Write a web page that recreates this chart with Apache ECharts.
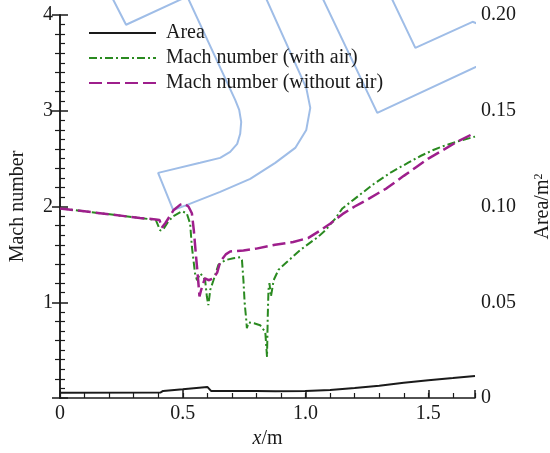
<!DOCTYPE html>
<html>
<head>
<meta charset="utf-8">
<script src="https://cdn.jsdelivr.net/npm/echarts@6/dist/echarts.min.js"></script>
<style>
html,body{margin:0;padding:0;background:#fff;}
#chart{width:550px;height:453px;}
</style>
</head>
<body>
<div id="chart"></div>
<script>
// ---- Data ----
const seriesNames = ['Area', 'Mach number (with air)', 'Mach number (without air)'];

// Area (m^2) vs x (m)
const areaX = [0, 0.41, 0.42, 0.5, 0.6, 0.605, 0.615, 0.8, 0.876, 1.0, 1.1, 1.2, 1.3, 1.4, 1.5, 1.6, 1.69];
const areaY = [0.0028, 0.0029, 0.0037, 0.0046, 0.0058, 0.0062, 0.0037, 0.0036, 0.0035, 0.0036, 0.0042, 0.0052, 0.0064, 0.0080, 0.0093, 0.0104, 0.0115];

// Mach number with air
const withAirX = [0, 0.163, 0.326, 0.39, 0.408, 0.42, 0.44, 0.462, 0.496, 0.516, 0.53, 0.537, 0.55, 0.558, 0.565, 0.571, 0.582, 0.591, 0.598, 0.604, 0.612, 0.625, 0.645, 0.673, 0.706, 0.734, 0.741, 0.747, 0.752, 0.758, 0.761, 0.768, 0.774, 0.79, 0.815, 0.836, 0.843, 0.846, 0.849, 0.853, 0.859, 0.865, 0.870, 0.89, 0.924, 0.978, 1.012, 1.05, 1.08, 1.12, 1.15, 1.2, 1.28, 1.35, 1.42, 1.47, 1.52, 1.56, 1.62, 1.69];
const withAirY = [1.98, 1.93, 1.88, 1.86, 1.75, 1.76, 1.84, 1.90, 1.95, 1.93, 1.82, 1.58, 1.30, 1.23, 1.27, 1.30, 1.27, 1.23, 1.06, 0.97, 1.13, 1.23, 1.39, 1.44, 1.46, 1.47, 1.44, 1.23, 0.99, 0.83, 0.73, 0.79, 0.81, 0.78, 0.76, 0.69, 0.43, 0.85, 1.13, 1.20, 1.06, 1.15, 1.23, 1.34, 1.42, 1.545, 1.61, 1.68, 1.75, 1.87, 1.98, 2.08, 2.24, 2.36, 2.46, 2.53, 2.59, 2.63, 2.68, 2.73];

// Mach number without air
const noAirX = [0, 0.163, 0.326, 0.39, 0.405, 0.415, 0.43, 0.462, 0.49, 0.505, 0.523, 0.537, 0.545, 0.555, 0.562, 0.568, 0.575, 0.59, 0.605, 0.612, 0.625, 0.64, 0.652, 0.675, 0.693, 0.747, 0.8, 0.876, 0.95, 1.01, 1.06, 1.1, 1.15, 1.2, 1.25, 1.33, 1.4, 1.45, 1.5, 1.56, 1.62, 1.69];
const noAirY = [1.98, 1.93, 1.88, 1.865, 1.86, 1.78, 1.83, 1.96, 2.02, 2.03, 2.00, 1.93, 1.75, 1.45, 1.25, 1.06, 1.13, 1.25, 1.23, 1.22, 1.25, 1.31, 1.42, 1.50, 1.53, 1.54, 1.56, 1.60, 1.63, 1.67, 1.75, 1.82, 1.92, 2.00, 2.07, 2.19, 2.32, 2.41, 2.50, 2.59, 2.68, 2.77];

// Background outline drawing (in x/m, Mach-number coordinates)
const outlineA = [[0.196, 4.263], [0.269, 3.898], [0.533, 4.211]];
const outlineB = [[0.5055, 4.263], [0.7134, 3.114], [0.7297, 3.009], [0.7379, 2.884], [0.7338, 2.759], [0.7216, 2.654], [0.6930, 2.571], [0.6523, 2.508], [0.5707, 2.456], [0.3995, 2.351], [0.4607, 1.964], [0.5177, 2.017], [0.6523, 2.153], [0.7746, 2.288], [0.8765, 2.456], [0.9580, 2.612], [1.0029, 2.800], [1.0192, 3.030], [1.0029, 3.239], [0.8235, 4.263]];
const outlineC = [[1.053, 4.263], [1.292, 2.978], [1.904, 3.710], [1.680, 3.929], [1.447, 3.657], [1.334, 4.263]];
const outlineD = [[1.814, 4.206], [2.018, 4.049]];
const outlines = [outlineA, outlineB, outlineC, outlineD];

// Axis ticks
const xTicks = [0, 0.5, 1.0, 1.5];
const machTicks = [1, 2, 3, 4];
const areaTicks = [0, 0.05, 0.10, 0.15, 0.20];

const zip = (xs, ys) => xs.map((x, i) => [x, ys[i]]);

const FONT = 'Liberation Serif';
const black = '#1a1a1a';

const chart = echarts.init(document.getElementById('chart'), null, {renderer: 'canvas'});

const outlineSeries = outlines.map((pts, i) => ({
  name: 'outline' + i,
  type: 'line',
  data: pts,
  xAxisIndex: 0,
  yAxisIndex: 0,
  symbol: 'none',
  clip: false,
  silent: true,
  z: 1,
  lineStyle: {color: '#9fbde7', width: 2}
}));

const option = {
  animation: false,
  backgroundColor: '#fff',
  grid: {left: 60, right: 75, top: 15, bottom: 55, containLabel: false, outerBoundsMode: 'none'},
  legend: {
    data: seriesNames,
    orient: 'vertical',
    left: 88,
    top: 23,
    padding: 0,
    itemWidth: 67,
    itemHeight: 10,
    itemGap: 5,
    itemStyle: {opacity: 0},
    textStyle: {fontFamily: FONT, fontSize: 20, color: black, lineHeight: 20, padding: [0, 0, 0, 5]}
  },
  xAxis: [{
    type: 'value',
    min: 0, max: 1.69, interval: 0.5,
    name: '{i|x}/m',
    nameLocation: 'middle',
    nameGap: 25,
    nameTextStyle: {fontFamily: FONT, fontSize: 20, color: black, rich: {i: {fontFamily: FONT, fontSize: 20, fontStyle: 'italic', color: black}}},
    axisLine: {show: true, lineStyle: {color: black, width: 1.5}},
    axisTick: {show: true, inside: true, length: 8, lineStyle: {color: black, width: 1.5}},
    axisLabel: {
      fontFamily: FONT, fontSize: 20, color: black, margin: 6, showMaxLabel: true,
      formatter: v => {
        const t = xTicks.find(k => Math.abs(k - v) < 1e-6);
        if (t === undefined) return '';
        return t === 0 ? '0' : t.toFixed(1);
      }
    },
    splitLine: {show: false}
  }, {
    type: 'value',
    min: 0, max: 1.69, interval: 0.1,
    position: 'bottom',
    axisLine: {show: false},
    axisTick: {show: true, inside: true, length: 5, lineStyle: {color: black, width: 1.2}},
    axisLabel: {show: false},
    splitLine: {show: false}
  }],
  yAxis: [{
    type: 'value',
    min: 0, max: 4, interval: 1,
    position: 'left',
    name: 'Mach number',
    nameLocation: 'middle',
    nameRotate: 90,
    nameGap: 32,
    nameTextStyle: {fontFamily: FONT, fontSize: 20, color: black},
    axisLine: {show: true, lineStyle: {color: black, width: 1.5}},
    axisTick: {show: true, inside: true, length: 8, lineStyle: {color: black, width: 1.5}},
    minorTick: {show: true, splitNumber: 10, length: 5, lineStyle: {color: black, width: 1.2}},
    axisLabel: {
      fontFamily: FONT, fontSize: 20, color: black, margin: 7,
      formatter: v => machTicks.indexOf(v) >= 0 ? String(v) : ''
    },
    splitLine: {show: false},
    minorSplitLine: {show: false}
  }, {
    type: 'value',
    min: 0, max: 0.2, interval: 0.05,
    position: 'right',
    name: 'Area/m{sup|2}',
    nameLocation: 'middle',
    nameRotate: 90,
    nameGap: 58,
    nameTextStyle: {fontFamily: FONT, fontSize: 20, color: black, rich: {sup: {fontFamily: FONT, fontSize: 12, color: black, verticalAlign: 'top', lineHeight: 20}}},
    axisLine: {show: true, lineStyle: {color: black, width: 1.5}},
    axisTick: {show: true, inside: true, length: 8, lineStyle: {color: black, width: 1.5}},
    minorTick: {show: true, splitNumber: 5, length: 5, lineStyle: {color: black, width: 1.2}},
    axisLabel: {
      fontFamily: FONT, fontSize: 20, color: black, margin: 6,
      formatter: v => {
        const t = areaTicks.find(k => Math.abs(k - v) < 1e-9);
        if (t === undefined) return '';
        return t === 0 ? '0' : t.toFixed(2);
      }
    },
    splitLine: {show: false}
  }],
  series: outlineSeries.concat([{
    name: seriesNames[0],
    type: 'line',
    data: zip(areaX, areaY),
    xAxisIndex: 0,
    yAxisIndex: 1,
    symbol: 'none',
    z: 3,
    lineStyle: {color: black, width: 2}
  }, {
    name: seriesNames[1],
    type: 'line',
    data: zip(withAirX, withAirY),
    xAxisIndex: 0,
    yAxisIndex: 0,
    symbol: 'none',
    z: 3,
    itemStyle: {color: '#2a8a20'},
    lineStyle: {color: '#2a8a20', width: 2, type: [8, 3, 2, 3]}
  }, {
    name: seriesNames[2],
    type: 'line',
    data: zip(noAirX, noAirY),
    xAxisIndex: 0,
    yAxisIndex: 0,
    symbol: 'none',
    z: 4,
    itemStyle: {color: '#9e1f8c'},
    lineStyle: {color: '#9e1f8c', width: 2.5, type: [13, 5]}
  }])
};

chart.setOption(option);
</script>
</body>
</html>
